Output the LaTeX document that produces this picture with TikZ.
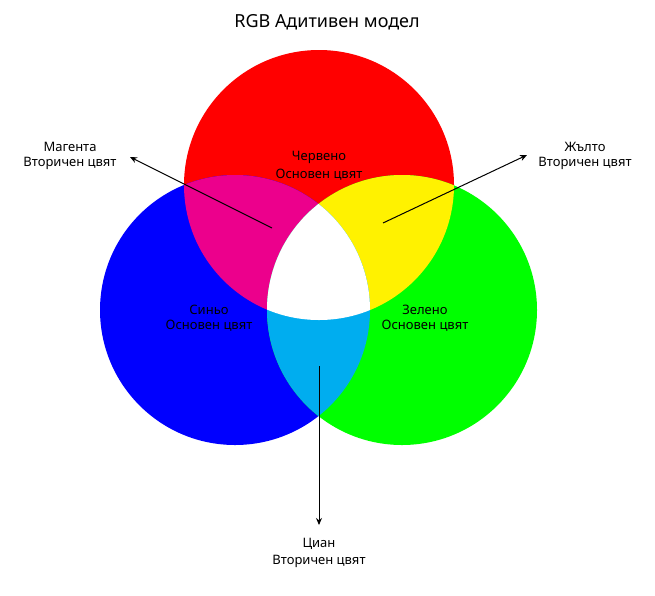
\documentclass[tikz,border=0pt]{standalone}
\usepackage{fontspec}
\setmainfont{Noto Sans}
\usetikzlibrary{arrows.meta, positioning}

\begin{document}
\begin{tikzpicture}[
    x=1pt, y=-1pt,
    lbl/.style={font=\fontsize{13}{15}\selectfont, align=center, inner sep=0pt},
    ttl/.style={font=\fontsize{13}{15}\selectfont\bfseries, inner sep=0pt},
    pointer/.style={-{Stealth[length=7pt,width=6pt]}, line width=1pt}
]
    \useasboundingbox (0,0) rectangle (655,595);
    \def\rr{135}

    % Primary circles
    \fill[red] (319,185) circle (\rr);
    \fill[blue] (235,310) circle (\rr);
    \fill[green] (402,310) circle (\rr);

    % Overlaps
    \begin{scope}
        \clip (319,185) circle (\rr);
        \fill[magenta] (235,310) circle (\rr);
        \fill[yellow] (402,310) circle (\rr);
    \end{scope}
    \begin{scope}
        \clip (235,310) circle (\rr);
        \fill[cyan] (402,310) circle (\rr);
    \end{scope}
    \begin{scope}
        \clip (319,185) circle (\rr);
        \clip (235,310) circle (\rr);
        \fill[white] (402,310) circle (\rr);
    \end{scope}

    % Title
    \node[font=\fontsize{18}{20}\selectfont\bfseries] (title) at (327,22) {RGB Адитивен модел};

    % Primary labels
    \node[ttl] (red) at (319,157) {Червено};
    \node[lbl, below=5pt of red] (redsub) {Основен цвят};
    \node[ttl] (blue) at (209,310) {Синьо};
    \node[lbl, below=5pt of blue] (bluesub) {Основен цвят};
    \node[ttl] (green) at (425,310) {Зелено};
    \node[lbl, below=5pt of green] (greensub) {Основен цвят};

    % Secondary labels
    \node[ttl] (mag) at (70,147) {Магента};
    \node[lbl, below=5pt of mag] (magsub) {Вторичен цвят};
    \node[ttl] (yel) at (585,147) {Жълто};
    \node[lbl, below=5pt of yel] (yelsub) {Вторичен цвят};
    \node[ttl] (cya) at (319,544) {Циан};
    \node[lbl, below=5pt of cya] (cyasub) {Вторичен цвят};

    % Arrows
    \coordinate (magfrom) at (272,228);
    \coordinate (magto) at (130,157);
    \coordinate (yelfrom) at (383,223);
    \coordinate (yelto) at (527,155);
    \coordinate (cyafrom) at (319,366);
    \coordinate (cyato) at (319,525);
    \draw[pointer] (magfrom) -- (magto);
    \draw[pointer] (yelfrom) -- (yelto);
    \draw[pointer] (cyafrom) -- (cyato);
\end{tikzpicture}
\end{document}
